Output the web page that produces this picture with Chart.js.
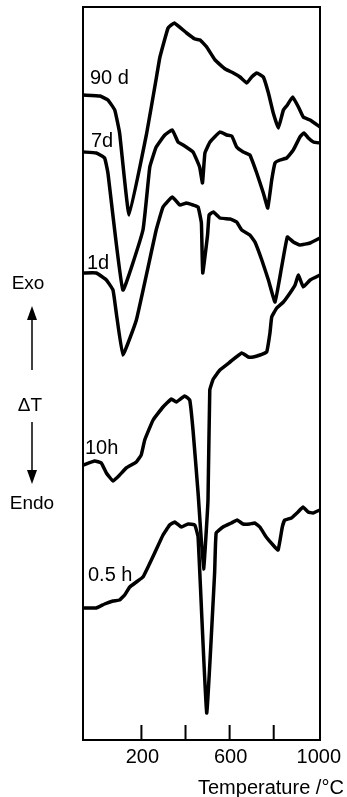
<!DOCTYPE html>
<html>
<head>
<meta charset="utf-8">
<script src="https://cdn.jsdelivr.net/npm/chart.js@4"></script>
<style>
  html, body { margin: 0; padding: 0; background: #fff; }
  #wrap { width: 347px; height: 797px; position: relative; }
</style>
</head>
<body>
<div id="wrap"><canvas id="dta"></canvas></div>
<script>
// DTA curves, temperature in degC, deltaT in arbitrary units (curves are offset)
const labels = ['90 d', '7d', '1d', '10h', '0.5 h'];

const temp90d = [-63, 12, 48, 79, 101, 144, 224, 266, 284, 321, 349, 405, 443, 466, 496, 534, 580, 617, 647, 678, 700, 723, 753, 776, 798, 821, 844, 862, 886, 912, 934, 965, 1010];
const dt90d   = [645, 644, 640, 630, 607, 525, 607, 660, 683, 712, 717, 707, 701, 700, 693, 680, 671, 667, 663, 657, 663, 667, 663, 647, 627, 612, 630, 635, 643, 633, 623, 620, 613];

const temp7d = [-63, -5, 33, 48, 116, 207, 238, 267, 306, 340, 366, 389, 434, 464, 477, 488, 511, 556, 587, 610, 632, 662, 692, 723, 753, 773, 791, 806, 829, 859, 889, 919, 937, 957, 980, 1010];
const dt7d   = [588, 587, 582, 567, 450, 510, 573, 593, 605, 610, 598, 595, 588, 573, 557, 587, 598, 608, 605, 604, 593, 588, 585, 567, 547, 532, 560, 577, 580, 582, 590, 603, 607, 602, 598, 597];

const temp1d = [-63, -5, 41, 71, 86, 116, 177, 267, 298, 340, 374, 404, 434, 457, 472, 478, 500, 507, 526, 556, 602, 632, 655, 692, 715, 746, 776, 806, 836, 862, 889, 919, 965, 1010];
const dt1d   = [467, 467, 460, 450, 427, 385, 420, 510, 533, 543, 535, 537, 535, 533, 517, 467, 505, 525, 528, 522, 521, 518, 510, 505, 498, 480, 460, 438, 473, 503, 498, 495, 497, 502];

const temp10h = [-63, -12, 18, 41, 71, 101, 131, 177, 199, 215, 253, 298, 336, 358, 396, 419, 434, 457, 482, 502, 510, 526, 556, 602, 655, 685, 707, 738, 768, 783, 791, 814, 844, 874, 897, 912, 934, 965, 1010];
const dt10h   = [275, 279, 277, 267, 259, 265, 272, 278, 285, 300, 320, 333, 341, 338, 344, 340, 310, 247, 171, 240, 350, 361, 370, 378, 387, 383, 383, 385, 388, 407, 423, 432, 438, 447, 455, 465, 453, 460, 465];

const temp05h = [-63, -5, 33, 71, 101, 124, 147, 177, 207, 230, 260, 298, 328, 351, 381, 411, 442, 457, 496, 532, 539, 570, 608, 634, 661, 691, 714, 737, 766, 797, 820, 839, 850, 880, 910, 933, 956, 978, 1009];
const dt05h   = [132, 132, 136, 139, 140, 145, 153, 158, 163, 173, 187, 205, 215, 218, 213, 216, 215, 203, 27, 167, 207, 213, 217, 220, 216, 216, 217, 213, 203, 195, 190, 213, 220, 222, 228, 233, 228, 227, 230];

const tickMarks = [200, 400, 600, 800];
const tickLabels = [200, 600, 1000];
const xTitle = 'Temperature /\u00b0C';

function pts(xs, ys) {
  return xs.map(function (x, i) { return { x: x, y: ys[i] }; });
}

const series = [
  pts(temp90d, dt90d),
  pts(temp7d, dt7d),
  pts(temp1d, dt1d),
  pts(temp10h, dt10h),
  pts(temp05h, dt05h)
];

// label offsets (pixels) relative to the start of each curve
const labelPos = [[90, -11], [91, -5], [87, -4], [85, -11], [88, -27]];

const FONT = '"Liberation Sans", Arial, sans-serif';

function arrow(ctx, x, y1, y2, head) {
  // line from y1 to y2, arrow head at y2
  const dir = y2 > y1 ? 1 : -1;
  ctx.beginPath();
  ctx.moveTo(x, y1);
  ctx.lineTo(x, y2 - dir * head);
  ctx.lineWidth = 1.5;
  ctx.stroke();
  ctx.beginPath();
  ctx.moveTo(x, y2);
  ctx.lineTo(x - 5, y2 - dir * head);
  ctx.lineTo(x + 5, y2 - dir * head);
  ctx.closePath();
  ctx.fill();
}

const decor = {
  id: 'decor',
  afterDraw(chart) {
    const ctx = chart.ctx;
    const a = chart.chartArea;
    const xs = chart.scales.x;
    const ys = chart.scales.y;
    ctx.save();
    ctx.strokeStyle = '#000';
    ctx.fillStyle = '#000';

    // frame
    ctx.lineWidth = 2;
    ctx.strokeRect(a.left, a.top, a.right - a.left, a.bottom - a.top);

    // inward tick marks
    tickMarks.forEach(function (t) {
      const px = xs.getPixelForValue(t);
      ctx.beginPath();
      ctx.moveTo(px, a.bottom);
      ctx.lineTo(px, a.bottom - 15);
      ctx.stroke();
    });

    // tick labels
    ctx.font = '20px ' + FONT;
    ctx.textAlign = 'center';
    ctx.textBaseline = 'top';
    tickLabels.forEach(function (t) {
      const px = Math.min(xs.getPixelForValue(t), a.right);
      ctx.fillText(String(t), px + 1, a.bottom + 7);
    });

    // axis title
    ctx.textAlign = 'left';
    ctx.fillText(xTitle, 198, 778);

    // curve labels
    ctx.textBaseline = 'alphabetic';
    series.forEach(function (s, i) {
      const py = ys.getPixelForValue(s[0].y);
      ctx.fillText(labels[i], labelPos[i][0], py + labelPos[i][1]);
    });

    // Exo / deltaT / Endo annotation
    ctx.textAlign = 'center';
    ctx.font = '19px ' + FONT;
    ctx.fillText('Exo', 28, 289);
    ctx.fillText('\u0394T', 30, 411);
    ctx.fillText('Endo', 32, 509);
    arrow(ctx, 32, 370, 306, 14);
    arrow(ctx, 32, 422, 484, 14);

    ctx.restore();
  }
};

new Chart(document.getElementById('dta'), {
  type: 'line',
  data: {
    datasets: series.map(function (s, i) {
      return {
        label: labels[i],
        data: s,
        borderColor: '#000',
        borderWidth: 3.5,
        pointRadius: 0,
        tension: 0.1,
        borderJoinStyle: 'round',
        borderCapStyle: 'round',
        fill: false
      };
    })
  },
  options: {
    responsive: true,
    maintainAspectRatio: false,
    animation: false,
    layout: { padding: { left: 83, right: 27, top: 7, bottom: 57 } },
    plugins: { legend: { display: false }, tooltip: { enabled: false } },
    scales: {
      x: { type: 'linear', min: -65, max: 1010, display: false },
      y: { min: 0, max: 733, display: false }
    }
  },
  plugins: [decor]
});
</script>
</body>
</html>
